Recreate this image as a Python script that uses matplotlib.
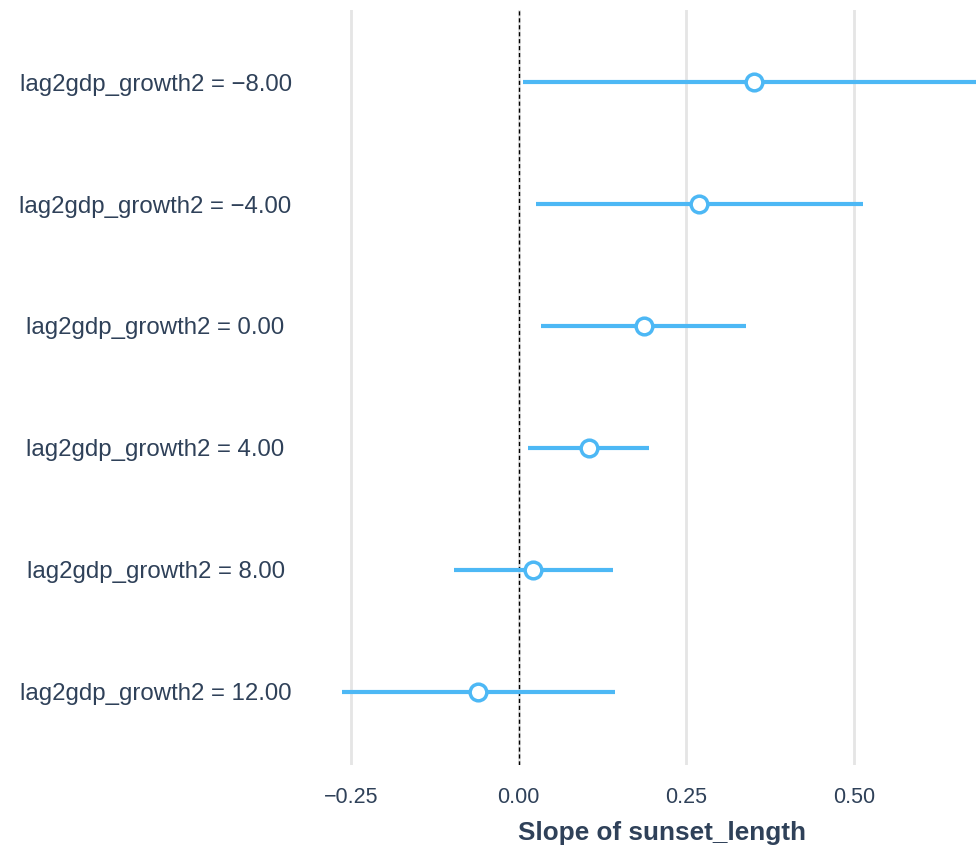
import matplotlib.pyplot as plt

plt.rcParams['font.family'] = ['Liberation Sans', 'DejaVu Sans']

labels = ['lag2gdp_growth2 = \u22128.00', 'lag2gdp_growth2 = \u22124.00',
          'lag2gdp_growth2 = 0.00', 'lag2gdp_growth2 = 4.00',
          'lag2gdp_growth2 = 8.00', 'lag2gdp_growth2 = 12.00']
estimate = [0.351, 0.269, 0.187, 0.104, 0.021, -0.061]
ci_low = [0.007, 0.025, 0.033, 0.013, -0.097, -0.264]
ci_high = [0.70, 0.513, 0.339, 0.194, 0.140, 0.143]
xticks = [-0.25, 0.0, 0.25, 0.5]

blue = '#4DB8F5'
txt = '#2F4159'

fig = plt.figure(figsize=(9.76, 8.49), dpi=100)
ax = fig.add_axes([0.3145, 0.099, 0.6855, 0.889])

ypos = list(range(len(labels)))
for x in xticks:
    ax.axvline(x, color='#E5E5E5', lw=2, zorder=0)
ax.axvline(0, color='black', lw=1, ls=(0, (3, 2)), zorder=1)

ax.hlines(ypos, ci_low, ci_high, color=blue, lw=3, zorder=2)
ax.plot(estimate, ypos, 'o', ms=12, mfc='white', mec=blue, mew=2.5, zorder=3)

ax.set_xlim(-0.316, 0.682)
ax.set_ylim(5.6, -0.59)
ax.set_xticks(xticks)
ax.set_xticklabels(['\u22120.25', '0.00', '0.25', '0.50'])
ax.set_yticks(ypos)
ax.set_yticklabels(labels, ha='center')
ax.tick_params(axis='y', length=0, pad=109, labelsize=17.3, labelcolor=txt)
ax.tick_params(axis='x', length=0, pad=16, labelsize=15.5, labelcolor=txt)
for s in ax.spines.values():
    s.set_visible(False)

ax.set_xlabel('Slope of sunset_length', fontsize=18.8, fontweight='bold', color=txt)
ax.xaxis.set_label_coords(0.531, -0.074)
ax.xaxis.label.set_va('top')

fig.savefig('out.png', dpi=100)
